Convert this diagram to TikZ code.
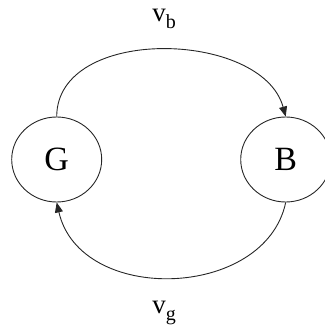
\documentclass[tikz,border=0pt]{standalone}
\usepackage{fontspec}
\setmainfont{Liberation Serif}
\usetikzlibrary{arrows.meta}
\tikzset{
  state/.style={draw=black!85, line width=0.9pt, ellipse, minimum width=90pt, minimum height=85pt, inner sep=0pt, font=\fontsize{34}{34}\selectfont},
  edge/.style={draw=black!85, line width=0.9pt, -{Triangle[length=10pt,width=8pt]}},
  lbl/.style={inner sep=0pt, font=\fontsize{27}{27}\selectfont}
}
\usetikzlibrary{shapes.geometric}
\newcommand{\subtxt}[1]{\raisebox{-7pt}{\fontsize{20}{20}\selectfont #1}}
\begin{document}
\begin{tikzpicture}[x=1pt,y=-1pt]
\useasboundingbox (0,0) rectangle (324,328);
\node[state] (G) at (56.7,159.5) {G};
\node[state] (B) at (285.7,159.5) {B};
\node[lbl, anchor=base] (vb) at (164,21.7) {v\subtxt{b}};
\node[lbl, anchor=base] (vg) at (164,313) {v\subtxt{g}};
\draw[edge] (G.north) .. controls (57,25) and (262,30) .. (B.north);
\draw[edge] (B.south) .. controls (265,300) and (80,305) .. (G.south);
\end{tikzpicture}
\end{document}
